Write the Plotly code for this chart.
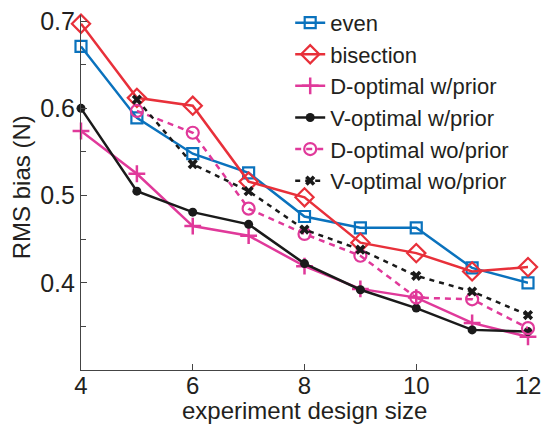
import plotly.graph_objects as go

sizes = [4, 5, 6, 7, 8, 9, 10, 11, 12]
sizes_wo = [5, 6, 7, 8, 9, 10, 11, 12]

even = [0.671, 0.589, 0.548, 0.526, 0.476, 0.463, 0.463, 0.417, 0.400]
bisection = [0.697, 0.612, 0.603, 0.516, 0.498, 0.446, 0.434, 0.413, 0.418]
d_opt_w = [0.574, 0.525, 0.465, 0.454, 0.419, 0.393, 0.383, 0.354, 0.338]
v_opt_w = [0.600, 0.505, 0.481, 0.467, 0.422, 0.392, 0.371, 0.346, 0.344]
d_opt_wo = [0.597, 0.572, 0.485, 0.456, 0.431, 0.383, 0.381, 0.348]
v_opt_wo = [0.610, 0.536, 0.505, 0.461, 0.438, 0.408, 0.390, 0.363]

x_title = "experiment design size"
y_title = "RMS bias (N)"

BLUE = "#0a72bd"
RED = "#e8303a"
MAG = "#e0399a"
BLK = "#1a1a1a"

FONT = "Liberation Sans, Arial, sans-serif"

fig = go.Figure()

def add(x, y, name, color, symbol, size, dash="solid", mline=2.2):
    fig.add_trace(go.Scatter(
        x=x, y=y, name=name, mode="lines+markers",
        line=dict(color=color, width=2.5, dash=dash),
        marker=dict(symbol=symbol, size=size, color=color,
                    line=dict(color=color, width=mline)),
        cliponaxis=False,
    ))

add(sizes, even, "even", BLUE, "square-open", 11)
add(sizes, bisection, "bisection", RED, "diamond-open", 14)
add(sizes, d_opt_w, "D-optimal w/prior", MAG, "cross-thin-open", 12, mline=2.5)
add(sizes, v_opt_w, "V-optimal w/prior", BLK, "circle", 9, mline=0)
add(sizes_wo, d_opt_wo, "D-optimal wo/prior", MAG, "circle-open", 12, dash="6px,5px")
add(sizes_wo, v_opt_wo, "V-optimal wo/prior", BLK, "x", 9, dash="5px,5px", mline=0)

fig.update_layout(
    width=551, height=424,
    margin=dict(l=81, r=23, t=15, b=54, autoexpand=False),
    paper_bgcolor="white", plot_bgcolor="white",
    font=dict(family=FONT, size=25, color="#231f20"),
    showlegend=True,
    legend=dict(x=0.468, y=1.037, xanchor="left", yanchor="top",
                bgcolor="rgba(0,0,0,0)", font=dict(size=22),
                tracegroupgap=0, itemwidth=30),
    xaxis=dict(range=[4, 12], tickvals=[4, 6, 8, 10, 12], automargin=False,
               showline=True, linecolor="#444", linewidth=1.2,
               ticks="inside", ticklen=6, tickcolor="#444",
               tickfont=dict(size=24), ticklabelstandoff=-6,
               showgrid=False, zeroline=False),
    yaxis=dict(range=[0.3, 0.707], tickvals=[0.4, 0.5, 0.6, 0.7],
               ticktext=["0.4", "0.5", "0.6", "0.7"], automargin=False,
               showline=True, linecolor="#444", linewidth=1.2,
               ticks="inside", ticklen=6, tickcolor="#444",
               minor=dict(tickvals=[0.35, 0.45, 0.55, 0.65], ticks="inside",
                          ticklen=5, tickcolor="#444"),
               showgrid=False, zeroline=False),
    annotations=[
        dict(text=x_title, xref="paper", yref="paper", x=0.5, y=-0.113,
             xanchor="center", yanchor="middle", showarrow=False,
             font=dict(size=24)),
        dict(text=y_title, xref="paper", yref="paper", x=-0.134, y=0.515,
             xanchor="center", yanchor="middle", showarrow=False,
             textangle=-90, font=dict(size=24)),
    ],
)

fig.write_html("out.html",
               config={"displayModeBar": False},
               post_script="document.body.style.margin='0';document.body.style.overflow='hidden';")
